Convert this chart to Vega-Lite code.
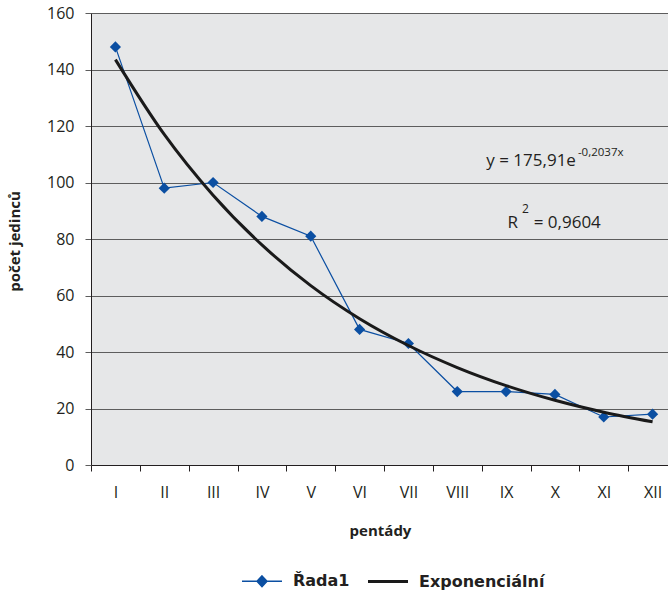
{
  "$schema": "https://vega.github.io/schema/vega-lite/v6.json",
  "width": 577,
  "height": 452,
  "autosize": {"type": "none"},
  "padding": {"left": 91, "top": 13, "right": 0, "bottom": 128},
  "background": "white",
  "config": {
    "view": {"fill": "#e6e7e8", "stroke": null},
    "font": "Open Sans",
    "text": {"font": "Open Sans", "color": "#231f20"}
  },
  "datasets": {
    "series": [
      {"cat": "I", "v": 148, "series": "Řada1"},
      {"cat": "II", "v": 98, "series": "Řada1"},
      {"cat": "III", "v": 100, "series": "Řada1"},
      {"cat": "IV", "v": 88, "series": "Řada1"},
      {"cat": "V", "v": 81, "series": "Řada1"},
      {"cat": "VI", "v": 48, "series": "Řada1"},
      {"cat": "VII", "v": 43, "series": "Řada1"},
      {"cat": "VIII", "v": 26, "series": "Řada1"},
      {"cat": "IX", "v": 26, "series": "Řada1"},
      {"cat": "X", "v": 25, "series": "Řada1"},
      {"cat": "XI", "v": 17, "series": "Řada1"},
      {"cat": "XII", "v": 18, "series": "Řada1"},
      {"cat": "I", "v": 143.5, "series": "Exponenciální"},
      {"cat": "II", "v": 117.0, "series": "Exponenciální"},
      {"cat": "III", "v": 95.5, "series": "Exponenciální"},
      {"cat": "IV", "v": 77.9, "series": "Exponenciální"},
      {"cat": "V", "v": 63.5, "series": "Exponenciální"},
      {"cat": "VI", "v": 51.8, "series": "Exponenciální"},
      {"cat": "VII", "v": 42.3, "series": "Exponenciální"},
      {"cat": "VIII", "v": 34.5, "series": "Exponenciální"},
      {"cat": "IX", "v": 28.1, "series": "Exponenciální"},
      {"cat": "X", "v": 22.9, "series": "Exponenciální"},
      {"cat": "XI", "v": 18.7, "series": "Exponenciální"},
      {"cat": "XII", "v": 15.3, "series": "Exponenciální"}
    ]
  },
  "data": {"name": "series"},
  "encoding": {
    "x": {
      "field": "cat",
      "type": "ordinal",
      "scale": {
        "type": "band",
        "domain": ["I", "II", "III", "IV", "V", "VI", "VII", "VIII", "IX", "X", "XI", "XII"],
        "paddingInner": 0,
        "paddingOuter": 0,
        "range": [0, 586]
      },
      "axis": {
        "title": "pentády",
        "tickBand": "extent",
        "tickSize": 6,
        "tickColor": "#231f20",
        "domainColor": "#231f20",
        "labelFontSize": 16,
        "labelColor": "#231f20",
        "labelPadding": 13,
        "labelAngle": 0,
        "titleFontSize": 15,
        "titleFontWeight": "bold",
        "titleColor": "#231f20",
        "titleX": 289,
        "titleY": 70,
        "titleBaseline": "alphabetic",
        "grid": false
      }
    },
    "y": {
      "field": "v",
      "type": "quantitative",
      "scale": {"domain": [0, 160], "nice": false},
      "axis": {
        "title": "počet jedinců",
        "values": [0, 20, 40, 60, 80, 100, 120, 140, 160],
        "grid": true,
        "gridColor": "#5d5d5d",
        "gridWidth": 1,
        "tickSize": 6,
        "tickColor": "#5d5d5d",
        "domainColor": "#231f20",
        "labelFontSize": 16,
        "labelColor": "#231f20",
        "labelPadding": 11,
        "titleFontSize": 15,
        "titleFontWeight": "bold",
        "titleColor": "#231f20",
        "titleX": -72,
        "titleY": 228,
        "titleBaseline": "alphabetic"
      }
    }
  },
  "layer": [
    {
      "transform": [{"filter": "datum.series === 'Řada1'"}],
      "mark": {"type": "line", "strokeWidth": 1.2},
      "encoding": {
        "stroke": {
          "field": "series",
          "type": "nominal",
          "scale": {"domain": ["Řada1", "Exponenciální"], "range": ["#0b4fa2", "#1a1a1a"]},
          "legend": {
            "orient": "none",
            "legendX": 163,
            "legendY": 560,
            "direction": "horizontal",
            "title": null,
            "symbolSize": 1600,
            "labelFont": "DejaVu Sans",
            "labelFontSize": 16,
            "labelFontWeight": "bold",
            "labelColor": "#231f20",
            "labelOffset": 23,
            "columnPadding": 12,
            "encode": {
              "symbols": {
                "update": {
                  "shape": {"signal": "datum.value === 'Řada1' ? 'M-1,0L1,0M0,-0.27L0.25,0L0,0.27L-0.25,0Z' : 'M-1,0L1,0'"},
                  "fill": {"signal": "datum.value === 'Řada1' ? '#0b4fa2' : 'transparent'"},
                  "stroke": {"signal": "datum.value === 'Řada1' ? '#0b4fa2' : '#1a1a1a'"},
                  "strokeWidth": {"signal": "datum.value === 'Řada1' ? 1.5 : 3"}
                }
              }
            }
          }
        }
      }
    },
    {
      "transform": [{"filter": "datum.series === 'Řada1'"}],
      "mark": {"type": "point", "shape": "diamond", "filled": true, "size": 125, "color": "#0b4fa2", "opacity": 1}
    },
    {
      "transform": [{"filter": "datum.series === 'Exponenciální'"}],
      "mark": {"type": "line", "strokeWidth": 3, "interpolate": "monotone"},
      "encoding": {
        "stroke": {"field": "series", "type": "nominal"}
      }
    },
    {
      "data": {"values": [{"t": "y = 175,91e", "cat": "X", "v": 105.8}]},
      "mark": {"type": "text", "align": "right", "baseline": "alphabetic", "dx": 21, "fontSize": 17},
      "encoding": {"text": {"field": "t"}}
    },
    {
      "data": {"values": [{"t": "-0,2037x", "cat": "X", "v": 109.5}]},
      "mark": {"type": "text", "align": "left", "baseline": "alphabetic", "dx": 23, "fontSize": 11.5},
      "encoding": {"text": {"field": "t"}}
    },
    {
      "data": {"values": [{"t": "R", "cat": "IX", "v": 83.9}]},
      "mark": {"type": "text", "align": "left", "baseline": "alphabetic", "dx": 1.5, "fontSize": 17},
      "encoding": {"text": {"field": "t"}}
    },
    {
      "data": {"values": [{"t": "2", "cat": "IX", "v": 89.2}]},
      "mark": {"type": "text", "align": "left", "baseline": "alphabetic", "dx": 16, "fontSize": 12},
      "encoding": {"text": {"field": "t"}}
    },
    {
      "data": {"values": [{"t": "= 0,9604", "cat": "IX", "v": 83.9}]},
      "mark": {"type": "text", "align": "left", "baseline": "alphabetic", "dx": 27.6, "fontSize": 17},
      "encoding": {"text": {"field": "t"}}
    }
  ]
}
